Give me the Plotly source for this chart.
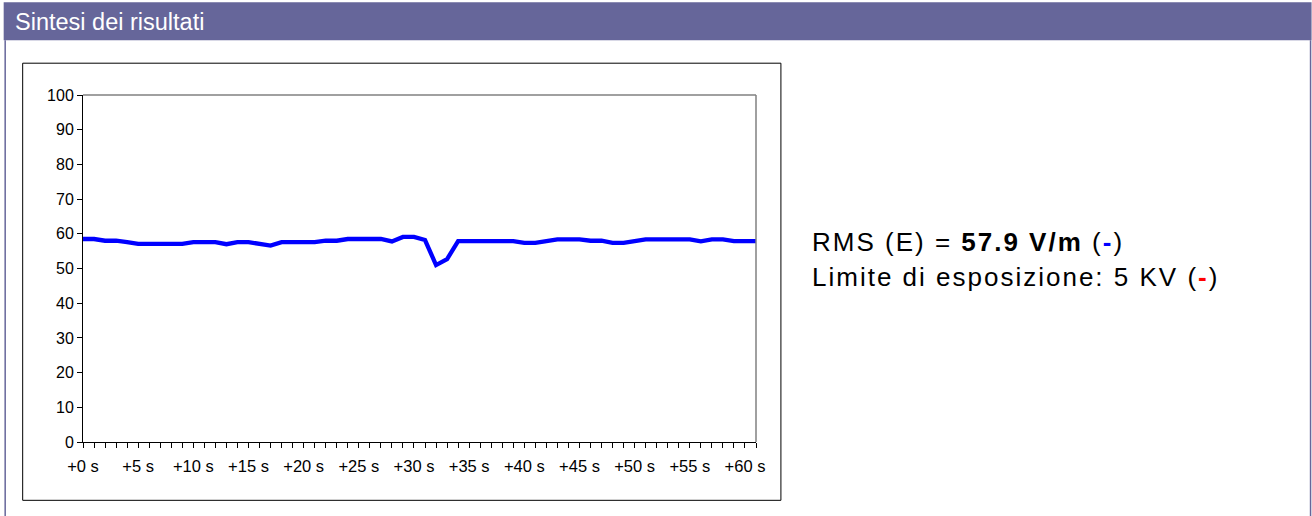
import plotly.graph_objects as go

# ---- data ----
seconds = list(range(62))
field_values = [
    58.5, 58.5, 58.0, 58.0, 57.6, 57.1, 57.1, 57.1, 57.1, 57.1,
    57.6, 57.6, 57.6, 57.0, 57.6, 57.6, 57.2, 56.6, 57.6, 57.6,
    57.6, 57.6, 58.0, 58.0, 58.5, 58.5, 58.5, 58.5, 57.8, 59.1,
    59.1, 58.2, 51.0, 52.7, 57.9, 57.9, 57.9, 57.9, 57.9, 57.9,
    57.4, 57.4, 57.9, 58.4, 58.4, 58.4, 58.0, 58.0, 57.4, 57.4,
    57.9, 58.4, 58.4, 58.4, 58.4, 58.4, 57.8, 58.4, 58.4, 57.9,
    57.9, 57.9,
]
label_seconds = [0, 5, 10, 15, 20, 25, 30, 35, 40, 45, 50, 55, 60]
label_texts = ["+0 s", "+5 s", "+10 s", "+15 s", "+20 s", "+25 s", "+30 s",
               "+35 s", "+40 s", "+45 s", "+50 s", "+55 s", "+60 s"]
y_ticks = [0, 10, 20, 30, 40, 50, 60, 70, 80, 90, 100]

header_title = "Sintesi dei risultati"
rms_value = "57.9 V/m"
limit_text = "Limite di esposizione: 5 KV"

W, H = 1312, 516
FONT = "Liberation Sans, Arial, sans-serif"

tick_text_all = [label_texts[label_seconds.index(s)] if s in label_seconds else "" for s in seconds]

fig = go.Figure()
fig.add_trace(go.Scatter(
    x=seconds, y=field_values, mode="lines",
    line=dict(color="#0000ff", width=4.3),
    hoverinfo="skip", showlegend=False,
))

# plot area in pixels
L, R, T, B = 83.3, 756.1, 94.8, 441.7

def fx(p):
    return (p - L) / (R - L)

def fy(p):
    return (B - p) / (B - T)

SP = "letter-spacing:2px"

fig.update_layout(
    width=W, height=H,
    margin=dict(l=L, r=W - R, t=T, b=H - B, pad=0),
    paper_bgcolor="white", plot_bgcolor="white",
    font=dict(family=FONT, size=16, color="black"),
    xaxis=dict(
        range=[0, 61], tickmode="array", tickvals=seconds, ticktext=tick_text_all,
        ticks="outside", ticklen=5, tickcolor="black", tickwidth=1,
        showline=True, linecolor="black", linewidth=1,
        showgrid=False, zeroline=False, fixedrange=True,
        ticklabelstandoff=4,
        tickfont=dict(family=FONT, size=16.5, color="black"),
    ),
    yaxis=dict(
        range=[0, 100], tickmode="array", tickvals=y_ticks,
        ticks="outside", ticklen=5, tickcolor="black", tickwidth=1,
        showline=True, linecolor="black", linewidth=1,
        showgrid=False, zeroline=False, fixedrange=True,
        tickfont=dict(family=FONT, size=16, color="black"),
    ),
    shapes=[
        dict(type="rect", xref="paper", yref="paper", layer="below",
             x0=fx(4), x1=fx(1311.5), y0=fy(40), y1=fy(2),
             fillcolor="#66669a", line=dict(width=0)),
        dict(type="line", xref="paper", yref="paper",
             x0=fx(5.5), x1=fx(5.5), y0=fy(40), y1=fy(520),
             line=dict(color="#66669a", width=1.5)),
        dict(type="line", xref="paper", yref="paper",
             x0=fx(1310.5), x1=fx(1310.5), y0=fy(40), y1=fy(520),
             line=dict(color="#66669a", width=1.5)),
        dict(type="rect", xref="paper", yref="paper", layer="below",
             x0=fx(23), x1=fx(781), y0=fy(500), y1=fy(63),
             line=dict(color="black", width=1), fillcolor="rgba(0,0,0,0)"),
        dict(type="line", xref="paper", yref="paper", x0=0, x1=1, y0=1, y1=1,
             line=dict(color="#808080", width=1.5)),
        dict(type="line", xref="paper", yref="paper", x0=1, x1=1, y0=0, y1=1,
             line=dict(color="#808080", width=1.5)),
    ],
    annotations=[
        dict(xref="paper", yref="paper", x=fx(13), y=fy(22),
             xanchor="left", yanchor="middle", showarrow=False,
             text=header_title, font=dict(family=FONT, size=23.5, color="white")),
        dict(xref="paper", yref="paper", x=fx(810), y=fy(242),
             xanchor="left", yanchor="middle", showarrow=False,
             text=(f"<span style='{SP}'>RMS (E) = <b>{rms_value}</b> "
                   f"(<b><span style='color:#0000ff'>-</span></b>)</span>"),
             font=dict(family=FONT, size=26, color="black")),
        dict(xref="paper", yref="paper", x=fx(810), y=fy(277),
             xanchor="left", yanchor="middle", showarrow=False,
             text=(f"<span style='{SP}'>{limit_text} "
                   f"(<b><span style='color:#ff0000'>-</span></b>)</span>"),
             font=dict(family=FONT, size=26, color="black")),
    ],
)

fig.write_html("out.html", config={"displayModeBar": False},
               post_script="document.body.style.margin='0px';document.body.style.overflow='hidden';")
